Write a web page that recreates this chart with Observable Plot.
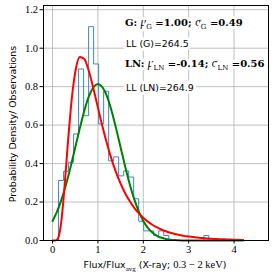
<!DOCTYPE html>
<html><head><meta charset="utf-8">
<script src="https://cdn.jsdelivr.net/npm/d3@7"></script>
<script src="https://cdn.jsdelivr.net/npm/@observablehq/plot@0.6"></script>
<style>body{margin:0;background:#fff} svg{display:block}</style>
</head><body><div id="chart"></div>
<script>
// ---- data ----
const xTicks = [0, 1, 2, 3, 4];
const yTicks = [0, 0.2, 0.4, 0.6, 0.8, 1.0, 1.2];
const binStart = 0.132, binWidth = 0.1104;
const histHeights = [0.312, 0.36, 0.407, 0.554, 0.892, 0.649, 1.112, 0.918, 0.606, 0.776,
  0.414, 0.435, 0.336, 0.362, 0.33, 0.217, 0.10, 0.05, 0.05, 0.026,
  0.05, 0.026, 0, 0, 0, 0, 0, 0, 0, 0.026];
const gaussX = [0,0.1,0.2,0.3,0.4,0.5,0.6,0.7,0.8,0.9,1.0,1.1,1.2,1.3,1.4,1.5,1.6,1.7,1.8,1.9,2.0,2.1,2.2,2.3,2.4,2.5,2.6,2.7,2.8,2.9,3.0,3.1,3.2,3.3,3.4,3.5,3.6,3.7,3.8,3.9,4.0,4.1,4.2];
const gaussY = [0.101,0.151,0.215,0.294,0.385,0.484,0.583,0.675,0.749,0.797,0.814,0.797,0.749,0.675,0.583,0.484,0.385,0.294,0.215,0.151,0.101,0.066,0.041,0.024,0.014,0.008,0.004,0.002,0.001,0,0,0,0,0,0,0,0,0,0,0,0,0,0];
const lognX = [0,0.05,0.1,0.15,0.2,0.25,0.3,0.35,0.4,0.45,0.5,0.6,0.7,0.8,0.9,1.0,1.1,1.2,1.3,1.4,1.5,1.6,1.7,1.8,1.9,2.0,2.1,2.2,2.3,2.4,2.5,2.6,2.7,2.8,2.9,3.0,3.1,3.2,3.3,3.4,3.5,3.6,3.7,3.8,3.9,4.0,4.1,4.2];
const lognY = [0,0,0.004,0.035,0.114,0.240,0.391,0.544,0.681,0.793,0.875,0.954,0.944,0.881,0.790,0.691,0.593,0.503,0.423,0.354,0.296,0.246,0.205,0.170,0.142,0.118,0.098,0.082,0.069,0.057,0.048,0.040,0.034,0.029,0.024,0.021,0.018,0.015,0.013,0.011,0.009,0.008,0.007,0.006,0.005,0.004,0.004,0.003];
const gaussFit = {mu: "1.00", sigma: "0.49", ll: "264.5"};
const lognFit = {mu: "-0.14", sigma: "0.56", ll: "264.9"};

// ---- build tables ----
const histPts = [{x: binStart, y: 0}]
  .concat(histHeights.map((h, i) => ({x: binStart + i * binWidth, y: h})))
  .concat([{x: binStart + histHeights.length * binWidth, y: 0}]);
const gauss = gaussX.map((x, i) => ({x, y: gaussY[i]}));
const logn = lognX.map((x, i) => ({x, y: lognY[i]}));

const serif = "Liberation Serif";
const sans = "DejaVu Sans";

const plot = Plot.plot({
  width: 274, height: 273,
  marginLeft: 43, marginRight: 6, marginTop: 5, marginBottom: 33,
  x: {domain: [-0.2, 4.76]},
  y: {domain: [0, 1.222]},
  style: {fontFamily: serif, fontSize: "10.5px", color: "#000", background: "#fff"},
  marks: [
    Plot.gridX(xTicks, {stroke: "#b0b0b0", strokeOpacity: 1, strokeWidth: 0.8}),
    Plot.gridY(yTicks, {stroke: "#b0b0b0", strokeOpacity: 1, strokeWidth: 0.8}),
    Plot.line(histPts, {x: "x", y: "y", curve: "step-after", stroke: "#3a87c6", strokeWidth: 1}),
    Plot.line(gauss, {x: "x", y: "y", curve: "monotone-x", stroke: "green", strokeWidth: 2}),
    Plot.line(logn, {x: "x", y: "y", curve: "monotone-x", stroke: "red", strokeWidth: 2}),
    Plot.axisX(xTicks, {tickSize: 3.5, tickPadding: 2, label: null, fontSize: 10.5}),
    Plot.axisY(yTicks, {tickSize: 3.5, tickPadding: 2, label: null, tickFormat: d => d.toFixed(1), fontSize: 10.5}),
    Plot.frame({stroke: "#000", strokeWidth: 1})
  ]
});
document.getElementById("chart").appendChild(plot);

// ---- annotations and axis labels ----
const svg = d3.select(plot);
function rich(x, y, parts, attrs) {
  const t = svg.append("text").attr("x", x).attr("y", y).attr("text-anchor", "start");
  for (const k in attrs) t.attr(k, attrs[k]);
  let shift = 0;
  for (const p of parts) {
    const s = t.append("tspan").text(p.t);
    if (p.w) s.attr("font-weight", p.w);
    if (p.i) s.attr("font-style", "italic");
    if (p.f) s.attr("font-family", p.f);
    if (p.size) s.attr("font-size", p.size);
    const want = p.sub ? (p.sub === true ? 2.5 : p.sub) : 0;
    if (want !== shift) { s.attr("dy", want - shift); shift = want; }
  }
  return t;
}
const halo = {stroke: "#fff", "stroke-width": 6, "stroke-linejoin": "round", "paint-order": "stroke", fill: "#000"};
const annSerif = Object.assign({"font-family": "DejaVu Serif", "font-size": 10}, halo);
const annSans = Object.assign({"font-family": sans, "font-size": 9.4}, halo);
const greek = {i: true, f: serif, size: "11.5px"};

rich(125, 26, [
  {t: "G:", w: "bold"}, {t: " "}, Object.assign({t: "μ"}, greek), {t: "G", sub: true, size: "0.7em"},
  {t: " =" + gaussFit.mu + "; ", w: "bold"}, Object.assign({t: "σ"}, greek), {t: "G", sub: true, size: "0.7em"},
  {t: " =" + gaussFit.sigma, w: "bold"}
], annSerif);
rich(126, 47, [{t: "LL (G)=" + gaussFit.ll}], annSans);
rich(125, 67, [
  {t: "LN:", w: "bold"}, {t: " "}, Object.assign({t: "μ"}, greek), {t: "LN", sub: true, size: "0.7em"},
  {t: " =" + lognFit.mu + "; ", w: "bold"}, Object.assign({t: "σ"}, greek), {t: "LN", sub: true, size: "0.7em"},
  {t: " =" + lognFit.sigma, w: "bold"}
], annSerif);
rich(126, 91, [{t: "LL (LN)=" + lognFit.ll}], annSans);

// y label
svg.append("text")
  .attr("transform", "translate(15.5,124) rotate(-90)")
  .attr("text-anchor", "middle")
  .attr("font-family", sans).attr("font-size", 9.4).attr("fill", "#000")
  .text("Probability Density/ Observations");
// x label
rich(155, 268, [
  {t: "Flux/Flux", f: sans},
  {t: "avg", f: serif, sub: true, size: "0.75em"},
  {t: " (X-ray; ", f: sans},
  {t: "0.3 − 2 keV", f: serif, size: "10.5px"},
  {t: ")", f: sans}
], {"text-anchor": "middle", "font-family": sans, "font-size": 9.4, fill: "#000"});
</script>
</body></html>
